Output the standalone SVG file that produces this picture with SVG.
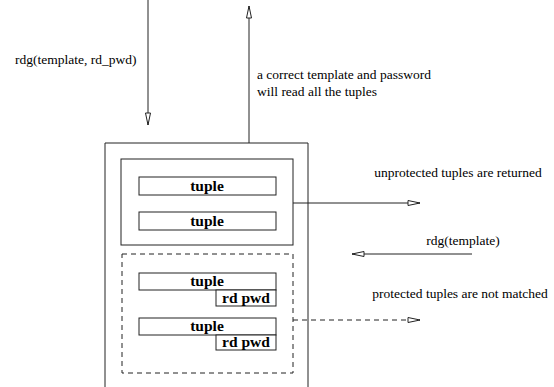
<svg xmlns="http://www.w3.org/2000/svg" width="554" height="387" viewBox="0 0 554 387">
<defs>
<style>
.ln{fill:none;stroke:#222;stroke-width:1}
.bx{fill:#fff;stroke:#222;stroke-width:1}
.dash{fill:none;stroke:#222;stroke-width:1;stroke-dasharray:5,4}
.lbl{font-family:"Liberation Serif","Times New Roman",serif;font-size:13.5px;fill:#000}
.bold{font-family:"Liberation Serif","Times New Roman",serif;font-size:15.5px;font-weight:bold;fill:#000;text-anchor:middle}
</style>
<marker id="ah" markerWidth="14" markerHeight="8" refX="13" refY="4" orient="auto" markerUnits="userSpaceOnUse">
<path d="M1,1.5 L13,4 L1,6.5 Z" fill="#fff" stroke="#222" stroke-width="1"/>
</marker>
</defs>
<rect width="554" height="387" fill="#fff"/>
<g id="store">
<path class="ln" d="M105,392 L105,143 L308,143 L308,392"/>
</g>
<g id="unprotected">
<rect class="bx" x="121" y="159" width="172" height="86"/>
</g>
<g id="tuple1"><rect class="bx" x="139" y="177" width="137" height="18"/><text class="bold" x="207" y="191">tuple</text></g>
<g id="tuple2"><rect class="bx" x="139" y="212" width="137" height="18"/><text class="bold" x="207" y="226">tuple</text></g>
<g id="protected">
<rect class="dash" x="122" y="254" width="171" height="119"/>
</g>
<g id="tuple3"><rect class="bx" x="139" y="273" width="137" height="17"/><text class="bold" x="207" y="286">tuple</text>
<rect class="bx" x="216" y="290" width="60" height="16"/><text class="bold" x="246" y="303">rd pwd</text></g>
<g id="tuple4"><rect class="bx" x="139" y="318" width="137" height="17"/><text class="bold" x="207" y="331">tuple</text>
<rect class="bx" x="216" y="335" width="60" height="15"/><text class="bold" x="246" y="347">rd pwd</text></g>
<g id="connectors">
<line class="ln" x1="148" y1="0" x2="148" y2="125" marker-end="url(#ah)"/>
<line class="ln" x1="249" y1="143" x2="249" y2="6" marker-end="url(#ah)"/>
<line class="ln" x1="293" y1="203" x2="420" y2="203" marker-end="url(#ah)"/>
<line class="ln" x1="472" y1="254" x2="352" y2="254" marker-end="url(#ah)"/>
<line class="dash" x1="293" y1="320" x2="420" y2="320" marker-end="url(#ah)"/>
</g>
<g id="labels">
<text class="lbl" x="15" y="64">rdg(template, rd_pwd)</text>
<text class="lbl" x="257" y="79">a correct template and password</text>
<text class="lbl" x="257" y="96">will read all the tuples</text>
<text class="lbl" x="458" y="177" text-anchor="middle">unprotected tuples are returned</text>
<text class="lbl" x="463" y="245" text-anchor="middle">rdg(template)</text>
<text class="lbl" x="460" y="298" text-anchor="middle">protected tuples are not matched</text>
</g>
</svg>
